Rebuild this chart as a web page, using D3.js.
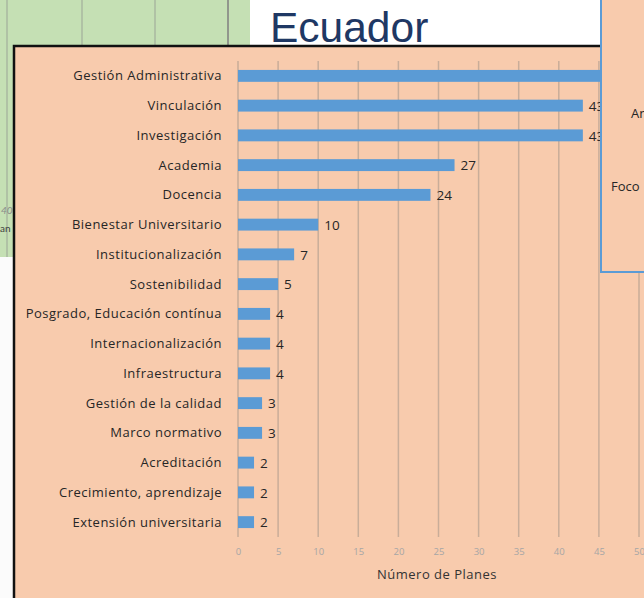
<!DOCTYPE html>
<meta charset="utf-8">
<style>
body { margin: 0; }
.cat { font-family: "Open Sans", "Noto Sans", sans-serif; font-size: 13px; letter-spacing: 0.5px; fill: #262626; }
.val { font-family: "Open Sans", "Noto Sans", sans-serif; font-size: 13.5px; fill: #262626; }
.tick text { font-family: "Open Sans", "Noto Sans", sans-serif; font-size: 9.5px; fill: #a6a6a6; }
</style>
<body>
<script src="https://d3js.org/d3.v7.min.js"></script>
<script>

// chart data
var categories = ["Gestión Administrativa", "Vinculación", "Investigación", "Academia", "Docencia",
  "Bienestar Universitario", "Institucionalización", "Sostenibilidad", "Posgrado, Educación contínua",
  "Internacionalización", "Infraestructura", "Gestión de la calidad", "Marco normativo",
  "Acreditación", "Crecimiento, aprendizaje", "Extensión universitaria"];
var planes = [48, 43, 43, 27, 24, 10, 7, 5, 4, 4, 4, 3, 3, 2, 2, 2];
var xTicks = [0, 5, 10, 15, 20, 25, 30, 35, 40, 45, 50];

var W = 644, H = 598;
var peach = "#f8cbad", blue = "#5b9bd5";

var svg = d3.select("body").append("svg")
    .attr("width", W)
    .attr("height", H);

svg.append("rect").attr("width", W).attr("height", H).attr("fill", "#fbfbfb");

// green slide piece behind the chart (top left)
svg.append("rect")
    .attr("x", 0).attr("y", 0).attr("width", 250).attr("height", 257)
    .attr("fill", "#c5e0b4");
[7, 82, 155, 228].forEach(function(gx, i) {
  svg.append("line")
      .attr("x1", gx).attr("x2", gx).attr("y1", 0).attr("y2", 257)
      .attr("stroke", i == 3 ? "#7f7f7f" : "#a9b9a0")
      .attr("stroke-width", 1.5);
});
svg.append("text").attr("x", 1).attr("y", 214)
    .style("font", "italic 10px Lato, sans-serif").attr("fill", "#8a8a8a").text("40");
svg.append("text").attr("x", 0).attr("y", 232)
    .style("font", "10px Lato, sans-serif").attr("fill", "#404040").text("an");

// white title area
svg.append("rect")
    .attr("x", 250).attr("y", 0).attr("width", 360).attr("height", 46)
    .attr("fill", "#ffffff");
svg.append("text")
    .attr("x", 270).attr("y", 42)
    .style("font-family", "'Liberation Sans', Arial, sans-serif")
    .style("font-size", "42.5px")
    .attr("fill", "#1f3864")
    .text("Ecuador");

// chart box
svg.append("rect")
    .attr("x", 14).attr("y", 46).attr("width", 700).attr("height", 600)
    .attr("fill", peach)
    .attr("stroke", "#111")
    .attr("stroke-width", 2.5);

var x = d3.scaleLinear().domain([0, 50]).range([238, 639]);
var y = d3.scaleBand().domain(categories).range([61, 537])
    .paddingInner(0.6).paddingOuter(0.3);

// gridlines
svg.append("g")
  .selectAll("line")
  .data(xTicks)
  .enter().append("line")
    .attr("x1", function(d) { return x(d); })
    .attr("x2", function(d) { return x(d); })
    .attr("y1", 61).attr("y2", 537)
    .attr("stroke", "#c9ad99")
    .attr("stroke-width", 1.5);

// tick labels
var xAxis = svg.append("g")
    .attr("transform", "translate(0,537)")
    .call(d3.axisBottom(x).tickValues(xTicks).tickSize(0).tickPadding(11));
xAxis.select(".domain").remove();

svg.append("text")
    .attr("x", 437).attr("y", 579)
    .attr("text-anchor", "middle")
    .style("font-family", "'Open Sans', 'Noto Sans', sans-serif")
    .style("font-size", "13px")
    .style("letter-spacing", "0.5px")
    .attr("fill", "#333")
    .text("Número de Planes");

// category labels
svg.append("g")
  .selectAll("text")
  .data(categories)
  .enter().append("text")
    .attr("class", "cat")
    .attr("x", 222)
    .attr("y", function(d) { return y(d) + y.bandwidth() / 2; })
    .attr("dy", "0.35em")
    .attr("text-anchor", "end")
    .text(function(d) { return d; });

// bars
svg.append("g")
  .selectAll("rect")
  .data(planes)
  .enter().append("rect")
    .attr("x", x(0))
    .attr("y", function(d, i) { return y(categories[i]); })
    .attr("width", function(d) { return x(d) - x(0); })
    .attr("height", y.bandwidth())
    .attr("fill", blue);

// value labels
svg.append("g")
  .selectAll("text")
  .data(planes)
  .enter().append("text")
    .attr("class", "val")
    .attr("x", function(d) { return x(d) + 6; })
    .attr("y", function(d, i) { return y(categories[i]) + y.bandwidth() / 2; })
    .attr("dy", "0.38em")
    .text(function(d) { return d; });

// overlapping box at the right
svg.append("rect")
    .attr("x", 601).attr("y", -4).attr("width", 80).attr("height", 276)
    .attr("fill", peach)
    .attr("stroke", blue)
    .attr("stroke-width", 2);
svg.append("text").attr("x", 631).attr("y", 118)
    .style("font", "13px 'Open Sans', sans-serif").attr("fill", "#262626").text("An");
svg.append("text").attr("x", 611).attr("y", 191)
    .style("font", "13px 'Open Sans', sans-serif").attr("fill", "#262626").text("Foco");

</script>
</body>
